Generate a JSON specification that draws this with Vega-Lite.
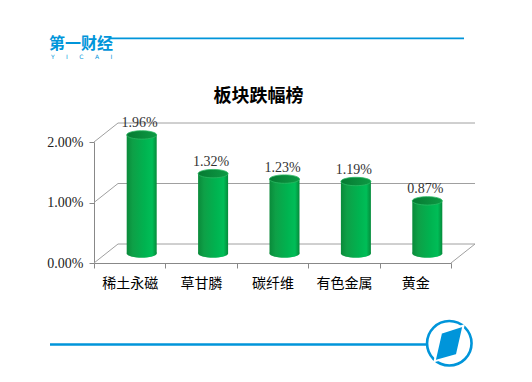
{
  "$schema": "https://vega.github.io/schema/vega-lite/v6.json",
  "autosize": {"type": "none"},
  "padding": {"left": 94, "top": 142, "right": 81, "bottom": 119},
  "width": 357,
  "height": 121,
  "background": "#ffffff",
  "config": {"view": {"stroke": null}},
  "title": {"text": "板块跌幅榜", "font": "Noto Sans CJK SC", "fontSize": 18, "fontWeight": "bold", "color": "#000000", "anchor": "middle", "dx": -14, "offset": -70},
  "datasets": {
    "sectors": [
      {"sector": "稀土永磁", "drop": 0.0196},
      {"sector": "草甘膦", "drop": 0.0132},
      {"sector": "碳纤维", "drop": 0.0123},
      {"sector": "有色金属", "drop": 0.0119},
      {"sector": "黄金", "drop": 0.0087}
    ],
    "grid": [{"g": 0}, {"g": 0.01}, {"g": 0.02}]
  },
  "data": {"name": "sectors"},
  "encoding": {
    "x": {"field": "sector", "type": "nominal", "sort": null,
      "scale": {"paddingInner": 0, "paddingOuter": 0},
      "axis": {"title": null, "tickBand": "extent", "labelAngle": 0, "domainColor": "#888888", "tickColor": "#888888", "tickSize": 5, "labelPadding": 8, "labelFont": "Noto Sans CJK SC", "labelFontSize": 14, "labelColor": "#000000"}},
    "y": {"type": "quantitative", "scale": {"domain": [0, 0.02], "nice": false},
      "axis": {"title": null, "values": [0, 0.01, 0.02], "format": ".2%", "grid": false, "domainColor": "#888888", "tickColor": "#888888", "tickSize": 5, "labelPadding": 6, "labelFont": "Liberation Serif", "labelFontSize": 14, "labelColor": "#222222"}}
  },
  "layer": [
    {
      "data": {"name": "grid"},
      "mark": {"type": "rule", "color": "#a0a0a0", "strokeWidth": 1, "yOffset": -19},
      "encoding": {"x": {"value": 24}, "x2": {"value": 381}, "y": {"field": "g", "type": "quantitative"}}
    },
    {
      "data": {"name": "grid"},
      "mark": {"type": "rule", "color": "#a0a0a0", "strokeWidth": 1, "y2Offset": -19},
      "encoding": {"x": {"value": 0}, "x2": {"value": 24}, "y": {"field": "g", "type": "quantitative"}, "y2": {"field": "g"}}
    },
    {
      "data": {"values": [{}]},
      "mark": {"type": "rule", "color": "#a0a0a0", "strokeWidth": 1, "y2Offset": -19},
      "encoding": {"x": {"value": 357}, "x2": {"value": 381}, "y": {"datum": 0}, "y2": {"datum": 0}}
    },
    {
      "mark": {"type": "point", "shape": "M-1,0A1,0.28 0 1,0 1,0A1,0.28 0 1,0 -1,0Z", "size": 900, "filled": true, "opacity": 1, "strokeWidth": 0, "xOffset": 12, "yOffset": -9.5,
        "fill": {"gradient": "linear", "x1": 0, "x2": 1, "y1": 0, "y2": 0, "stops": [{"offset": 0, "color": "#0a8a3a"}, {"offset": 0.2, "color": "#0ea047"}, {"offset": 0.6, "color": "#00b350"}, {"offset": 0.85, "color": "#00bd57"}, {"offset": 1, "color": "#058a3a"}]}},
      "encoding": {"y": {"datum": 0}}
    },
    {
      "mark": {"type": "bar", "size": 30, "xOffset": 12, "yOffset": -9.5, "y2Offset": -9.5,
        "fill": {"gradient": "linear", "x1": 0, "x2": 1, "y1": 0, "y2": 0, "stops": [{"offset": 0, "color": "#0a8a3a"}, {"offset": 0.2, "color": "#0ea047"}, {"offset": 0.6, "color": "#00b350"}, {"offset": 0.85, "color": "#00bd57"}, {"offset": 1, "color": "#058a3a"}]}},
      "encoding": {"y": {"field": "drop", "type": "quantitative"}, "y2": {"datum": 0}}
    },
    {
      "mark": {"type": "point", "shape": "M-1,0A1,0.28 0 1,0 1,0A1,0.28 0 1,0 -1,0Z", "size": 900, "filled": true, "opacity": 1, "stroke": "#2bb862", "strokeWidth": 0.8, "xOffset": 12, "yOffset": -9.5,
        "fill": {"gradient": "linear", "x1": 0, "x2": 1, "y1": 0, "y2": 0, "stops": [{"offset": 0, "color": "#067a32"}, {"offset": 1, "color": "#0d9a44"}]}},
      "encoding": {"y": {"field": "drop", "type": "quantitative"}}
    },
    {
      "mark": {"type": "text", "font": "Liberation Serif", "fontSize": 14, "color": "#333333", "baseline": "alphabetic", "xOffset": 10, "yOffset": -17},
      "encoding": {"y": {"field": "drop", "type": "quantitative"}, "text": {"field": "drop", "type": "quantitative", "format": ".2%"}}
    },
    {
      "data": {"values": [{}]},
      "mark": {"type": "rule", "color": "#0095da", "strokeWidth": 1.8},
      "encoding": {"x": {"value": 16}, "x2": {"value": 370}, "y": {"value": -103.7}}
    },
    {
      "data": {"values": [{}]},
      "mark": {"type": "text", "text": "第一财经", "font": "Noto Sans CJK SC", "fontSize": 16, "fontWeight": "bold", "color": "#0095da", "align": "left", "baseline": "middle"},
      "encoding": {"x": {"value": -45}, "y": {"value": -98.5}}
    },
    {
      "data": {"values": [{}]},
      "mark": {"type": "text", "text": "Y\u00a0\u00a0\u00a0\u00a0\u00a0\u00a0I\u00a0\u00a0\u00a0\u00a0\u00a0\u00a0C\u00a0\u00a0\u00a0\u00a0\u00a0\u00a0A\u00a0\u00a0\u00a0\u00a0\u00a0\u00a0I", "font": "DejaVu Sans", "fontSize": 6, "color": "#0095da", "align": "left", "baseline": "middle"},
      "encoding": {"x": {"value": -43}, "y": {"value": -85.5}}
    },
    {
      "data": {"values": [{}]},
      "mark": {"type": "rule", "color": "#0095da", "strokeWidth": 2.5},
      "encoding": {"x": {"value": -44}, "x2": {"value": 333}, "y": {"value": 202.5}}
    },
    {
      "data": {"values": [{}]},
      "mark": {"type": "point", "shape": "circle", "size": 1980, "filled": false, "opacity": 1, "stroke": "#0095da", "strokeWidth": 2.6},
      "encoding": {"x": {"value": 355.3}, "y": {"value": 201.3}}
    },
    {
      "data": {"values": [{}]},
      "mark": {"type": "point", "shape": "M-0.37,-0.47L0.64,-0.8L0.34,0.52L-0.66,0.8Z", "size": 1980, "filled": true, "opacity": 1, "fill": "#0095da", "stroke": "#ffffff", "strokeWidth": 2},
      "encoding": {"x": {"value": 355.3}, "y": {"value": 201.3}}
    }
  ]
}
